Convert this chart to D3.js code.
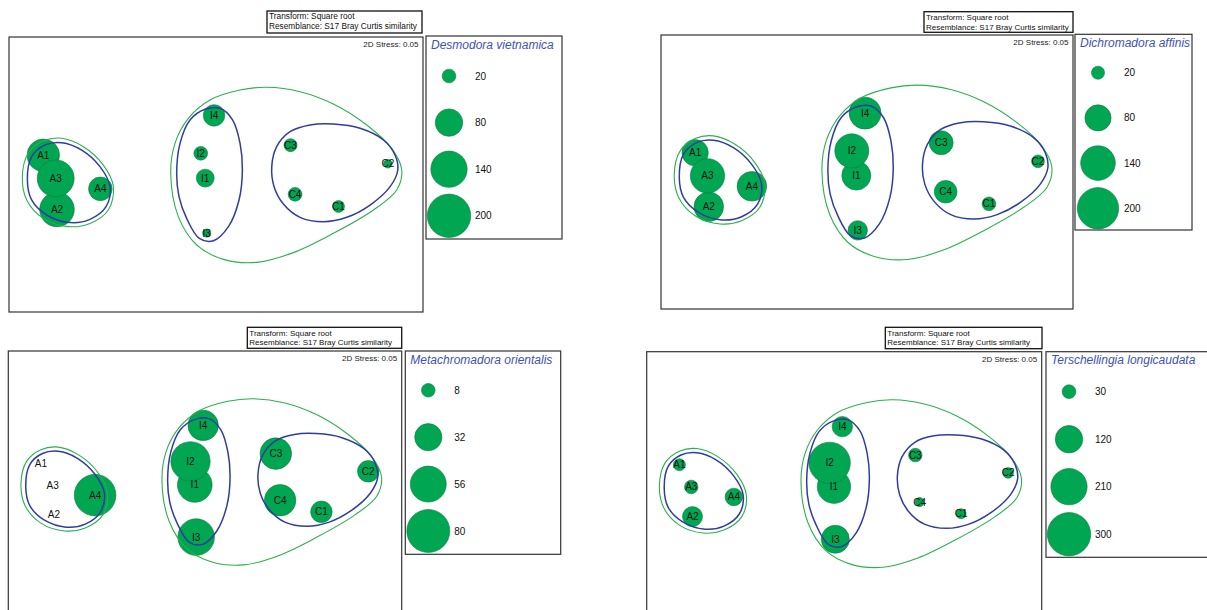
<!DOCTYPE html>
<html>
<head>
<meta charset="utf-8">
<script src="https://cdn.jsdelivr.net/npm/d3@7"></script>
<style>
  body { margin: 0; background: #fff; }
  svg { display: block; }
  text { font-family: Arial, "Liberation Sans", sans-serif; }
</style>
</head>
<body>
<svg id="chart" width="1207" height="610"></svg>
<script>
// nMDS ordination of the 12 stations (shared by all four bubble plots)
const samples = ["A1", "A2", "A3", "A4", "I1", "I2", "I3", "I4", "C1", "C2", "C3", "C4"];
const mds1 = [-1.335, -1.229, -1.239, -0.894, -0.083, -0.118, -0.072, -0.015, 0.947, 1.328, 0.576, 0.611];
const mds2 = [0.149, -0.270, -0.030, -0.111, -0.028, 0.164, -0.453, 0.457, -0.247, 0.083, 0.227, -0.153];

// Species abundances per station (same order as samples)
const desmodora = [112, 127, 145, 59, 34, 20, 7, 49, 15, 8, 18, 20];
const dichromadora = [81, 102, 138, 102, 98, 135, 44, 119, 22, 19, 67, 60];
const metachromadora = [0, 0, 0, 75, 52, 67, 58, 40, 20, 20, 43, 43];
const terschellingia = [23, 64, 29, 49, 178, 273, 125, 66, 16, 18, 29, 13];

// Bubble legend values
const legendDesmodora = [20, 80, 140, 200];
const legendDichromadora = [20, 80, 140, 200];
const legendMetachromadora = [8, 32, 56, 80];
const legendTerschellingia = [30, 120, 210, 300];

// Cluster similarity contours in ordination space
const contourGreenA = [[-1.497, -0.017], [-1.451, 0.164], [-1.335, 0.259], [-1.193, 0.280], [-1.025, 0.215],
  [-0.871, 0.073], [-0.793, -0.094], [-0.832, -0.274], [-0.974, -0.378], [-1.141, -0.403], [-1.335, -0.339], [-1.463, -0.197]];
const contourBlueA = [[-1.458, -0.043], [-1.425, 0.138], [-1.322, 0.228], [-1.193, 0.246], [-1.038, 0.189],
  [-0.897, 0.061], [-0.819, -0.094], [-0.850, -0.249], [-0.974, -0.347], [-1.128, -0.372], [-1.309, -0.313], [-1.425, -0.197]];
const contourGreenIC = [[-0.350, 0.009], [-0.317, 0.241], [-0.214, 0.434], [-0.046, 0.576], [0.186, 0.653],
  [0.392, 0.674], [0.650, 0.640], [0.907, 0.545], [1.165, 0.383], [1.358, 0.202], [1.436, 0.035],
  [1.397, -0.120], [1.217, -0.274], [0.907, -0.455], [0.598, -0.604], [0.315, -0.679], [0.057, -0.656],
  [-0.149, -0.545], [-0.291, -0.326]];
const contourBlueI = [[-0.304, 0.009], [-0.278, 0.241], [-0.201, 0.421], [-0.085, 0.504], [0.031, 0.512],
  [0.129, 0.421], [0.186, 0.241], [0.204, 0.035], [0.178, -0.197], [0.096, -0.403], [-0.020, -0.512],
  [-0.129, -0.494], [-0.227, -0.339], [-0.286, -0.171]];
const contourBlueC = [[0.431, 0.061], [0.469, 0.215], [0.572, 0.331], [0.727, 0.383], [0.907, 0.390],
  [1.114, 0.357], [1.294, 0.267], [1.384, 0.151], [1.405, 0.035], [1.346, -0.094], [1.191, -0.236],
  [1.011, -0.331], [0.830, -0.365], [0.650, -0.331], [0.521, -0.228], [0.449, -0.094]];

const transformLines = ["Transform: Square root", "Resemblance: S17 Bray Curtis similarity"];
const stressLabel = "2D Stress: 0.05";

const FILL = "#00a651", EDGE = "#0a7d3c";
const GREEN_LINE = "#2bb04f", BLUE_LINE = "#2f3d9f", TITLE_BLUE = "#3d52b8";

const panels = [
  { title: "Desmodora vietnamica", values: desmodora, legend: legendDesmodora, rMax: 21.7,
    box: [9, 37, 423, 312], tbox: [267, 11, 422, 33], tFont: 8.3,
    lbox: [426, 36, 562, 239], legendY0: 76, legendStep: 46.6 },
  { title: "Dichromadora affinis", values: dichromadora, legend: legendDichromadora, rMax: 20.7,
    box: [661, 35, 1073, 309], tbox: [924, 11.7, 1073, 32.3], tFont: 8,
    lbox: [1075, 34.3, 1192, 230], legendY0: 72.7, legendStep: 45.2 },
  { title: "Metachromadora orientalis", values: metachromadora, legend: legendMetachromadora, rMax: 21.5,
    box: [8.3, 351, 401.7, 612], tbox: [247.3, 327.3, 401.7, 348.3], tFont: 8,
    lbox: [405.3, 351, 560.7, 554.3], legendY0: 390.3, legendStep: 46.9 },
  { title: "Terschellingia longicaudata", values: terschellingia, legend: legendTerschellingia, rMax: 21.7,
    box: [646.7, 351.7, 1041.7, 614.7], tbox: [885.3, 327.3, 1042, 348.7], tFont: 8,
    lbox: [1046, 351.7, 1212, 557.3], legendY0: 391.7, legendStep: 47.5 }
];

const svg = d3.select("#chart");

panels.forEach(p => {
  const g = svg.append("g");
  const [x0, y0, x1, y1] = p.box;

  const x = d3.scaleLinear().domain([-1.6, 1.6]).range([x0, x1]);
  const y = d3.scaleLinear().domain([-1.063, 1.063]).range([y1, y0]);
  const r = d3.scaleSqrt().domain([0, d3.max(p.legend)]).range([0, p.rMax]);

  // plot frame
  g.append("rect")
    .attr("x", x0).attr("y", y0).attr("width", x1 - x0).attr("height", y1 - y0)
    .attr("fill", "none").attr("stroke", "#333").attr("stroke-width", 1.2);

  // transform / resemblance note
  const [tx0, ty0, tx1, ty1] = p.tbox;
  g.append("rect")
    .attr("x", tx0).attr("y", ty0).attr("width", tx1 - tx0).attr("height", ty1 - ty0)
    .attr("fill", "#fff").attr("stroke", "#111").attr("stroke-width", 1.3);
  g.selectAll(".tline").data(transformLines).join("text")
    .attr("x", tx0 + 2)
    .attr("y", (d, i) => ty0 + 8.2 + i * 9.8)
    .attr("font-size", p.tFont)
    .attr("fill", "#111")
    .text(d => d);

  // stress
  g.append("text")
    .attr("x", x1 - 4.5).attr("y", y0 + 10)
    .attr("text-anchor", "end")
    .attr("font-size", 8).attr("fill", "#222")
    .text(stressLabel);

  // bubbles
  const pts = samples.map((s, i) => ({ s, mx: mds1[i], my: mds2[i], v: p.values[i] }));
  g.selectAll(".bubble").data(pts.filter(d => d.v > 0)).join("circle")
    .attr("cx", d => x(d.mx)).attr("cy", d => y(d.my)).attr("r", d => r(d.v))
    .attr("fill", FILL).attr("stroke", EDGE).attr("stroke-width", 0.6);

  // similarity contours
  const line = d3.line().x(d => x(d[0])).y(d => y(d[1])).curve(d3.curveCatmullRomClosed.alpha(0.5));
  [contourGreenA, contourGreenIC].forEach(c => {
    g.append("path").attr("d", line(c)).attr("fill", "none")
      .attr("stroke", GREEN_LINE).attr("stroke-width", 1.1);
  });
  [contourBlueA, contourBlueI, contourBlueC].forEach(c => {
    g.append("path").attr("d", line(c)).attr("fill", "none")
      .attr("stroke", BLUE_LINE).attr("stroke-width", 1.5);
  });

  // station labels
  g.selectAll(".lbl").data(pts).join("text")
    .attr("x", d => x(d.mx)).attr("y", d => y(d.my))
    .attr("text-anchor", "middle").attr("dominant-baseline", "central")
    .attr("font-size", 10).attr("fill", "#111")
    .text(d => d.s);

  // legend
  const [lx0, ly0, lx1, ly1] = p.lbox;
  g.append("rect")
    .attr("x", lx0).attr("y", ly0).attr("width", lx1 - lx0).attr("height", ly1 - ly0)
    .attr("fill", "#fff").attr("stroke", "#333").attr("stroke-width", 1.2);
  g.append("text")
    .attr("x", lx0 + 5).attr("y", ly0 + 8.5)
    .attr("dominant-baseline", "central")
    .attr("font-size", 12).attr("font-style", "italic").attr("fill", TITLE_BLUE)
    .text(p.title);
  const ly = d3.scaleLinear().domain([0, 1]).range([p.legendY0, p.legendY0 + p.legendStep]);
  const items = g.selectAll(".leg").data(p.legend).join("g");
  items.append("circle")
    .attr("cx", lx0 + 23).attr("cy", (d, i) => ly(i)).attr("r", d => r(d))
    .attr("fill", FILL).attr("stroke", EDGE).attr("stroke-width", 0.6);
  items.append("text")
    .attr("x", lx0 + 49).attr("y", (d, i) => ly(i))
    .attr("dominant-baseline", "central")
    .attr("font-size", 10).attr("fill", "#111")
    .text(d => d);
});
</script>
</body>
</html>
